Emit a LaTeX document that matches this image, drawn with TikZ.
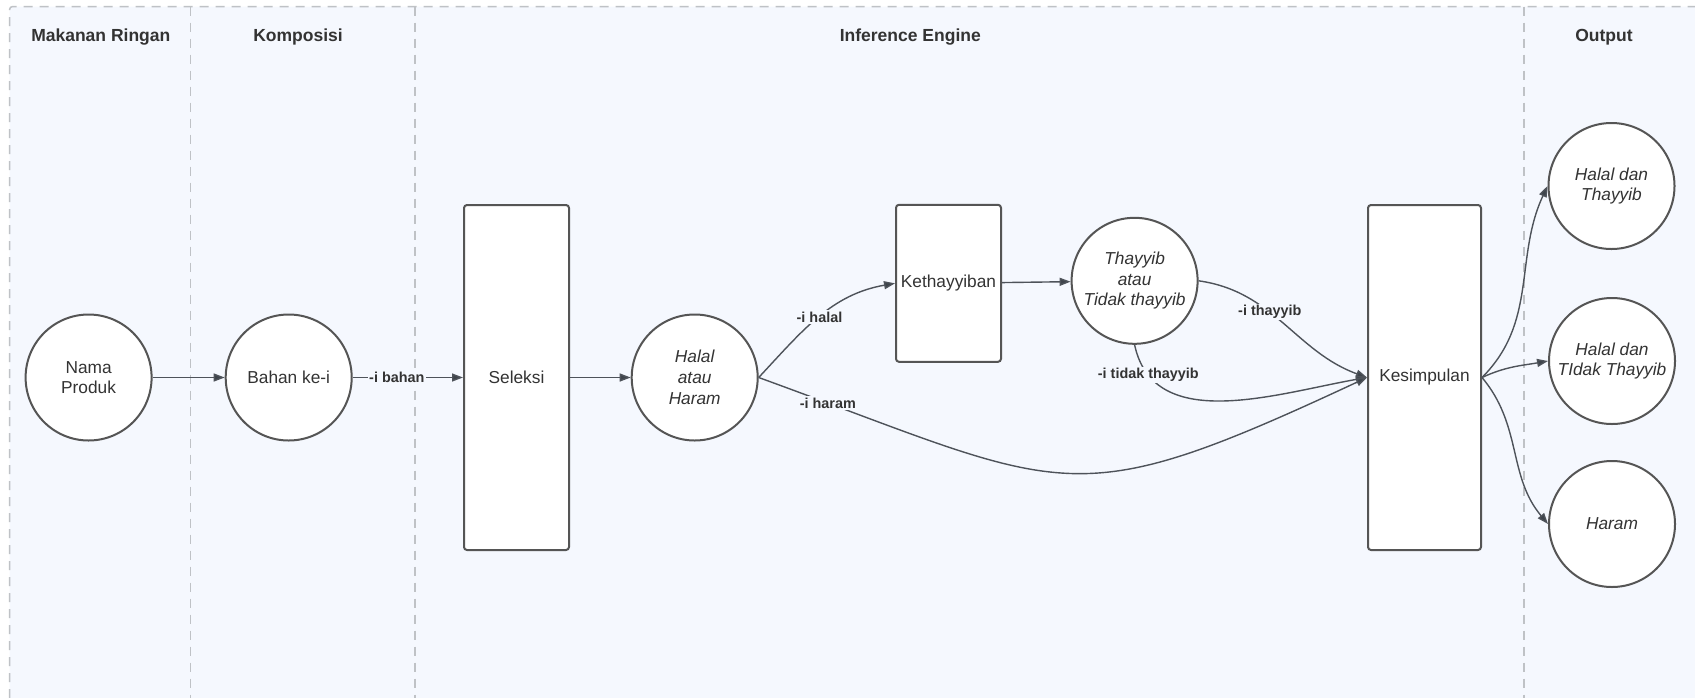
\documentclass[tikz,border=0pt]{standalone}
\usepackage{fontspec}
\setmainfont{Liberation Sans}
\usetikzlibrary{arrows.meta}
\definecolor{bgblue}{HTML}{F5F8FE}
\definecolor{lanegray}{HTML}{BFC2C6}
\definecolor{shapegray}{HTML}{555555}
\definecolor{linegray}{HTML}{4E535A}
\definecolor{tipgray}{HTML}{3E444B}
\definecolor{txt}{HTML}{333333}
\tikzset{
  lane/.style={draw=lanegray, line width=1.5pt, dash pattern=on 9pt off 7pt},
  hdr/.style={font=\bfseries\fontsize{17.5}{21}\selectfont, text=txt, anchor=base, inner sep=0pt},
  circ/.style={circle, draw=shapegray, line width=2pt, fill=white, minimum size=126pt, inner sep=0pt, align=center, text=txt, font=\fontsize{17.3}{20.7}\selectfont},
  icirc/.style={circ, font=\itshape\fontsize{17.3}{20.7}\selectfont},
  box/.style={rectangle, rounded corners=3pt, draw=shapegray, line width=2pt, fill=white, align=center, text=txt, font=\fontsize{17.3}{20.7}\selectfont, inner sep=0pt},
  conn/.style={draw=linegray, line width=1.4pt, -{Triangle[length=11pt,width=8pt,fill=tipgray]}},
  lbl/.style={fill=bgblue, font=\bfseries\fontsize{14.4}{17}\selectfont, text=txt, inner sep=1.5pt},
}
\begin{document}
\begin{tikzpicture}[x=1pt,y=-1pt]
\useasboundingbox (0,0) rectangle (1695,697);
\clip (0,0) rectangle (1695,697);
\fill[white] (0,0) rectangle (1695,697);
\fill[bgblue, rounded corners=3pt] (9.6,6.5) rectangle (1720,730);
\draw[lane, rounded corners=3pt] (9.6,730) -- (9.6,6.5) -- (1720,6.5);
\draw[lane] (190.5,6.5) -- (190.5,730);
\draw[lane] (415,6.5) -- (415,730);
\draw[lane] (1524,6.5) -- (1524,730);

\node[hdr] (h1) at (100.8,41.5) {Makanan Ringan};
\node[hdr] (h2) at (298,41.5) {Komposisi};
\node[hdr] (h3) at (910.3,41.5) {Inference Engine};
\node[hdr] (h4) at (1604,41.5) {Output};

\node[circ] (np) at (88.6,377.5) {Nama\\Produk};
\node[circ] (bk) at (288.7,377.5) {Bahan ke-i};
\node[box, minimum width=105pt, minimum height=345pt] (sel) at (516.5,377.5) {Seleksi};
\node[icirc] (hh) at (694.7,377.5) {Halal\\atau\\Haram};
\node[box, minimum width=105pt, minimum height=157pt] (keth) at (948.5,283.3) {Kethayyiban};
\node[icirc] (th) at (1134.6,280.8) {Thayyib\\atau\\Tidak thayyib};
\node[box, minimum width=113pt, minimum height=345pt] (kes) at (1424.5,377.5) {Kesimpulan};
\node[icirc] (o1) at (1611.5,186) {Halal dan\\Thayyib};
\node[icirc] (o2) at (1612,361) {Halal dan\\TIdak Thayyib};
\node[icirc] (o3) at (1612,524) {Haram};

\draw[conn] (np) -- (bk);
\draw[conn] (bk) -- node[lbl, pos=0.4] (lb) {-i bahan} (sel);
\draw[conn] (sel) -- (hh);
\draw[conn] (hh.east) to[out=47, in=190] node[lbl, pos=0.5] (lh) {-i halal} (keth.west);
\draw[conn] (keth) -- (th);
\draw[conn] (th.east) to[out=-8, in=160] node[lbl, pos=0.4] (lt) {-i thayyib} (kes.west);
\draw[conn] (th.south) to[out=-78, in=190] node[lbl, pos=0.14] (ltt) {-i tidak thayyib} (kes.west);
\draw[conn] (hh.east) to[out=-20, in=205, looseness=1.4] node[lbl, pos=0.08] (lhr) {-i haram} (kes.west);
\draw[conn] (kes.east) to[out=45, in=245] (o1.west);
\draw[conn] (kes.east) to[out=25, in=190] (o2.west);
\draw[conn] (kes.east) to[out=-50, in=130] (o3.west);
\end{tikzpicture}
\end{document}
